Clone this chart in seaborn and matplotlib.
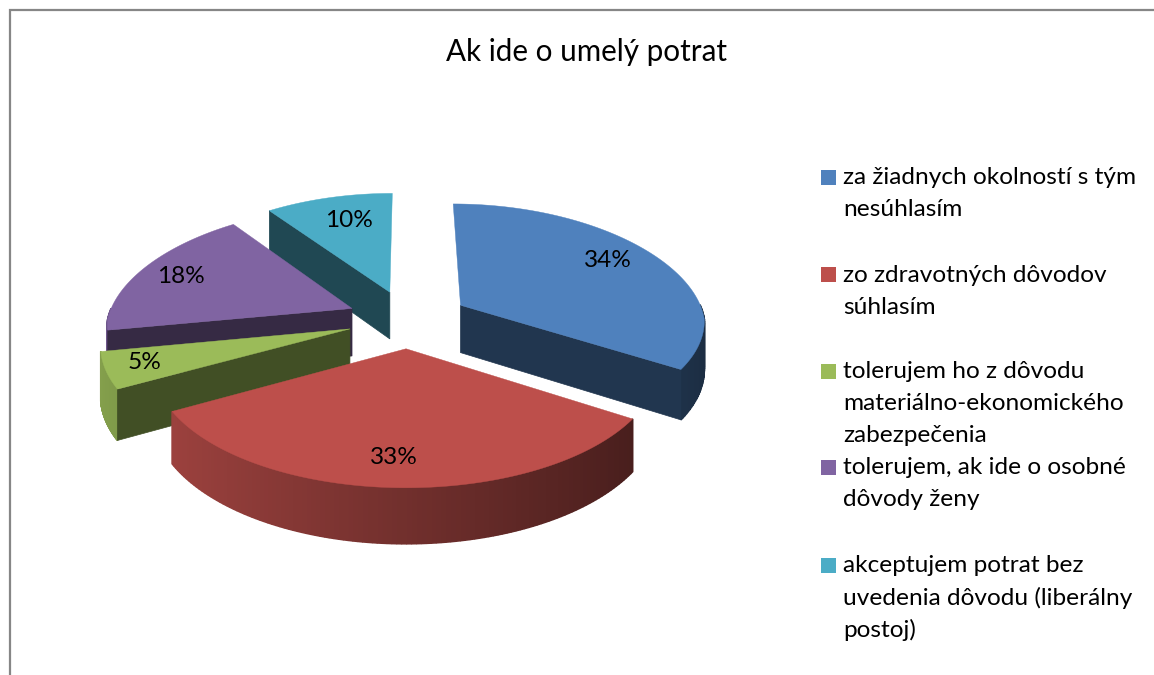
import numpy as np
import matplotlib
matplotlib.use("Agg")
import matplotlib.pyplot as plt
from matplotlib.patches import Polygon, Rectangle
import seaborn as sns

title = "Ak ide o umelý potrat"
categories = [
    "za žiadnych okolností s tým\nnesúhlasím",
    "zo zdravotných dôvodov\nsúhlasím",
    "tolerujem ho z dôvodu\nmateriálno-ekonomického\nzabezpečenia",
    "tolerujem, ak ide o osobné\ndôvody ženy",
    "akceptujem potrat bez\nuvedenia dôvodu (liberálny\npostoj)",
]
values = [34, 33, 5, 18, 10]
hex_colors = ["#4F81BD", "#BD4F4B", "#9BBB59", "#8064A2", "#4BACC6"]

sns.set_theme(style="white")
plt.rcParams["font.family"] = ["Lato", "DejaVu Sans"]
palette = sns.color_palette(hex_colors)

# projection of the tilted pie plane
CX, CY, AX, BY, K, K_BACK, DEPTH, EXPLODE = 408.0, 319.0, 244.5, 115.8, 0.114, 0.165, 48.0, 0.25
# small placement nudges of the data labels, pixels
label_nudge = [(-8, -3), (-5, 0), (-12, 1), (-3, 0), (9, 5)]


def project(x, y, z=0.0):
    w = 1 + K * y
    wx = 1 + (K_BACK if y > 0 else K) * y
    return CX + AX * x / wx, CY - BY * y / w + z / w


fig = plt.figure(figsize=(11.54, 6.75), dpi=100)
ax = fig.add_axes([0, 0, 1, 1])
ax.set_xlim(0, 1154)
ax.set_ylim(675, 0)
ax.axis("off")

# chart frame
ax.plot([10, 10, 1154], [675, 10, 10], color="#868686", lw=1.6, solid_joinstyle="miter")

fractions = np.array(values) / sum(values)
ends = 90 - 360 * np.cumsum(fractions)
starts = ends + 360 * fractions
mids = (starts + ends) / 2


def shade(col, f):
    return tuple(min(1, c * f) for c in col)


for i in [4, 3, 2, 0, 1]:
    a0, a1, mid, col = starts[i], ends[i], mids[i], palette[i]
    ox = EXPLODE * np.cos(np.radians(mid))
    oy = EXPLODE * np.sin(np.radians(mid))
    th = np.radians(np.linspace(a0, a1, 121))
    rx, ry = ox + np.cos(th), oy + np.sin(th)
    # outer wall, shaded along the rim; only the part that faces the viewer
    for j in range(len(th) - 1):
        tm = (th[j] + th[j + 1]) / 2
        if np.sin(tm) > 0:
            continue
        f = 0.60 - 0.255 * np.cos(tm)
        c = shade(col, f)
        quad = [project(rx[j], ry[j]), project(rx[j + 1], ry[j + 1]),
                project(rx[j + 1], ry[j + 1], DEPTH), project(rx[j], ry[j], DEPTH)]
        ax.add_patch(Polygon(quad, closed=True, fc=c, ec=c, lw=1.2, joinstyle="bevel"))
    # radial walls that face the viewer
    walls = []
    if np.cos(np.radians(a0)) < -1e-6:
        walls.append((rx[0], ry[0]))
    if np.cos(np.radians(a1)) > 1e-6:
        walls.append((rx[-1], ry[-1]))
    for px, py in walls:
        quad = [project(ox, oy), project(px, py), project(px, py, DEPTH), project(ox, oy, DEPTH)]
        c = shade(col, 0.42)
        ax.add_patch(Polygon(quad, closed=True, fc=c, ec=c, lw=0.5))
    # top
    top = [project(ox, oy)] + [project(a, b) for a, b in zip(rx, ry)]
    ax.add_patch(Polygon(top, closed=True, fc=col, ec=col, lw=0.3))
    # data label
    lx, ly = project(ox + 0.8 * np.cos(np.radians(mid)), oy + 0.8 * np.sin(np.radians(mid)))
    ax.text(lx + label_nudge[i][0], ly + label_nudge[i][1], f"{values[i]}%", ha="center", va="center",
            fontsize=17.6, color="black", zorder=20)

ax.text(586, 52, title, ha="center", va="center", fontsize=21.3, color="black")

# legend
legend_y = [178, 275, 372, 468, 566]
for y, label, col in zip(legend_y, categories, palette):
    ax.add_patch(Rectangle((821, y - 8), 15, 15, fc=col, ec="none"))
    for n, line in enumerate(label.split("\n")):
        ax.text(843, y + n * 32, line, ha="left", va="center", fontsize=17.6, color="black")

fig.savefig("out.png", dpi=100)
